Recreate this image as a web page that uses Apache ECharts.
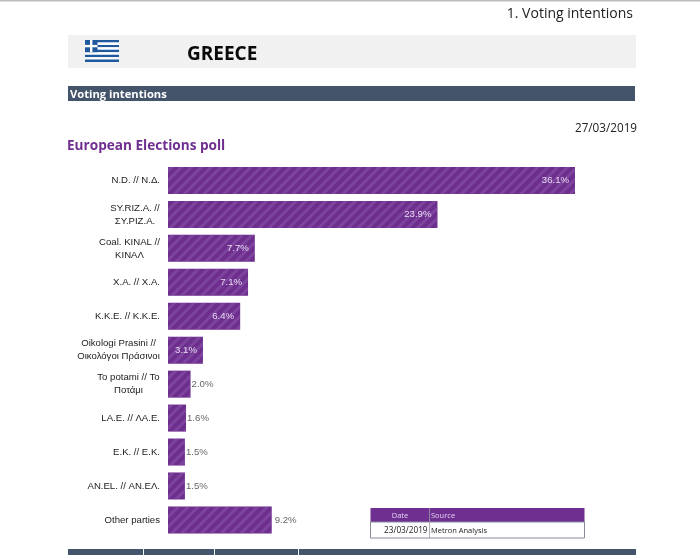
<!DOCTYPE html>
<html><head><meta charset="utf-8">
<style>html,body{margin:0;padding:0;background:#fff}#c{width:700px;height:555px}</style>
<script src="https://cdn.jsdelivr.net/npm/echarts@6/dist/echarts.min.js"></script>
</head><body><div id="c"></div>
<script>
const categories = ["N.D. // N.Δ.", "SY.RIZ.A. //\nΣΥ.ΡΙΖ.Α.", "Coal. KINAL //\nΚΙΝΑΛ", "X.A. // X.A.", "K.K.E. // K.K.E.", "Oikologi Prasini //\nΟικολόγοι Πράσινοι", "To potami // Το\nΠοτάμι", "LA.E. // ΛΑ.Ε.", "E.K. // E.K.", "AN.EL. // AN.EΛ.", "Other parties"];
const values = [36.1, 23.9, 7.7, 7.1, 6.4, 3.1, 2.0, 1.6, 1.5, 1.5, 9.2];
const labelsOutside = ["To potami // Το\nΠοτάμι", "LA.E. // ΛΑ.Ε.", "E.K. // E.K.", "AN.EL. // AN.EΛ.", "Other parties"];
const tableHeader = ["Date", "Source"];
const tableRow = ["23/03/2019", "Metron Analysis"];

const PURPLE = '#6f2f90', SLATE = '#44546a';
const SERIF = '"Open Sans", sans-serif', SANS = '"Liberation Sans", Arial, sans-serif';
const chart = echarts.init(document.getElementById('c'), null, {renderer: 'canvas'});

function rect(x, y, w, h, fill, extra) {
  return Object.assign({type: 'rect', shape: {x, y, width: w, height: h}, style: {fill}, silent: true}, extra || {});
}
function text(x, y, t, o) {
  return {type: 'text', x, y, silent: true, style: Object.assign({text: t, fontFamily: SERIF, fill: '#111', textVerticalAlign: 'middle'}, o)};
}

const rich = {};
const ctx = document.createElement('canvas').getContext('2d');
function measure(s) { ctx.font = '9.6px "Liberation Sans"'; return ctx.measureText(s).width; }
function axisLabel(v) {
  if (v.indexOf('\n') < 0) return v;
  const lines = v.split('\n');
  const w = Math.ceil(Math.max.apply(null, lines.map(measure)));
  const key = 'w' + w;
  rich[key] = {width: w, align: 'center', fontSize: 9.6, lineHeight: 13, fontFamily: SANS, color: '#222'};
  return lines.map(l => '{' + key + '|' + l + '}').join('\n');
}
const axisCats = categories.map(axisLabel);

const flag = [];
for (let i = 0; i < 9; i++) flag.push(rect(85, 40 + i * 2.45, 34, 2.45, i % 2 ? '#ffffff' : '#1f5a9e'));
flag.push(rect(85, 40, 12.5, 12.2, '#1f5a9e'));
flag.push(rect(90, 40, 2.4, 12.2, '#ffffff'));
flag.push(rect(85, 44.9, 12.5, 2.4, '#ffffff'));

chart.setOption({
  animation: false,
  backgroundColor: '#fff',
  grid: {left: 168, top: 163.5, width: 407, height: 373.4},
  xAxis: {type: 'value', min: 0, max: 36.1, show: false},
  yAxis: {
    type: 'category', inverse: true, data: axisCats,
    axisLine: {show: false}, axisTick: {show: false},
    axisLabel: {margin: 8, fontSize: 9.6, fontFamily: SANS, color: '#222', lineHeight: 13, align: 'right', interval: 0, rich}
  },
  series: [{
    type: 'bar', barWidth: 27, silent: true,
    data: values.map((v, i) => ({
      value: v,
      label: labelsOutside.indexOf(categories[i]) < 0
        ? {position: 'insideRight', distance: 6, color: '#e9dcf2'}
        : {position: 'right', distance: v > 5 ? 3 : 1, color: '#666'}
    })),
    itemStyle: {
      color: '#6d2e8e',
      decal: {symbol: 'rect', color: 'rgba(150,100,180,0.4)', dashArrayX: [1, 0], dashArrayY: [3, 4], rotation: -Math.PI / 4, symbolSize: 1}
    },
    label: {show: true, fontSize: 9.6, fontFamily: SANS, formatter: p => p.value.toFixed(1) + '%'}
  }],
  graphic: [
    rect(0, 0, 700, 1.5, '#bdbdbd'),
    text(633, 14, '1. Voting intentions', {fontSize: 14, textAlign: 'right', fill: '#222'}),
    rect(68, 35, 568, 33, '#f1f1f1'),
    ...flag,
    text(187, 54.5, 'GREECE', {fontSize: 19, fontWeight: 'bold', fill: '#0a0a0a'}),
    rect(68, 86, 567, 15, SLATE),
    text(70, 95, 'Voting intentions', {fontSize: 11.2, fontWeight: 'bold', fill: '#fff'}),
    text(637, 128.5, '27/03/2019', {fontSize: 11.7, textAlign: 'right', fill: '#222'}),
    text(67, 146.5, 'European Elections poll', {fontSize: 13.6, fontWeight: 'bold', fill: PURPLE}),
    rect(370.5, 508, 214, 14, PURPLE),
    rect(370.5, 522, 214, 16, '#ffffff', {style: {fill: '#fff', stroke: '#8a8a9a', lineWidth: 1}}),
    rect(429, 508, 0.8, 30, '#9a9aaa'),
    text(400, 515.5, tableHeader[0], {fontSize: 7.5, textAlign: 'center', fill: '#e3d2ef'}),
    text(431, 515.5, tableHeader[1], {fontSize: 7.5, fill: '#e3d2ef'}),
    text(427.5, 530.5, tableRow[0], {fontSize: 8.2, textAlign: 'right', fill: '#222'}),
    text(431, 530.5, tableRow[1], {fontSize: 7.5, fill: '#222'}),
    rect(68, 549, 568, 6, SLATE),
    rect(143, 549, 1, 6, '#fff'), rect(214, 549, 1, 6, '#fff'), rect(298, 549, 1, 6, '#fff')
  ]
});
</script></body></html>
